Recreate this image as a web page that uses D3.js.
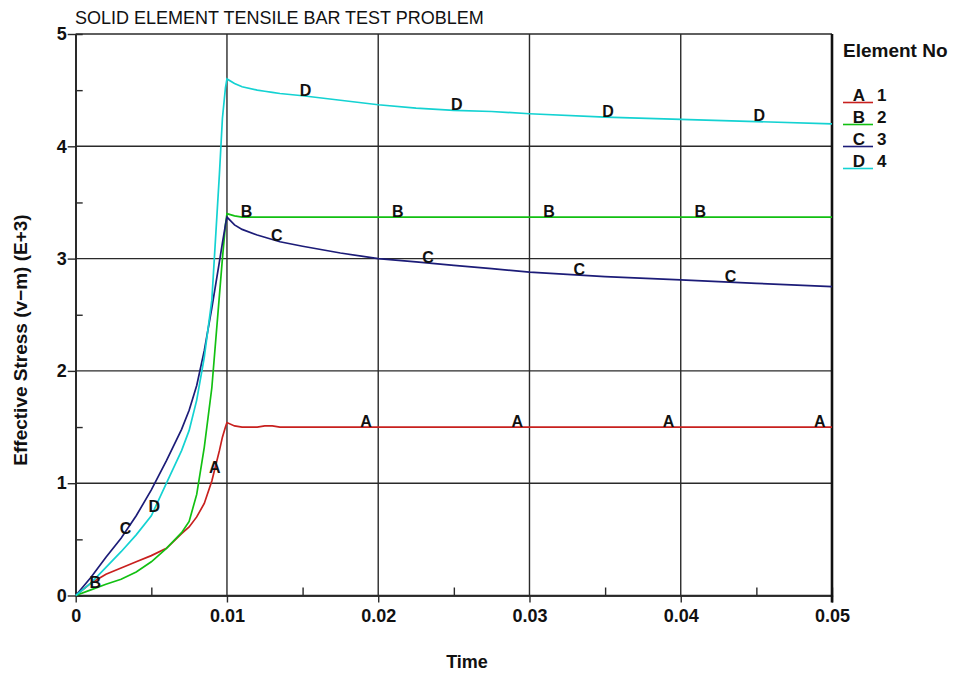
<!DOCTYPE html>
<html>
<head>
<meta charset="utf-8">
<script src="https://cdn.jsdelivr.net/npm/d3@7"></script>
<style>
  body { margin: 0; background: #fff; }
  text { font-family: "Liberation Sans", Arial, sans-serif; fill: #111; }
</style>
</head>
<body>
<svg id="chart" width="953" height="674"></svg>
<script>
// Time values shared by every element history.
var time = [0, 0.001, 0.002, 0.003, 0.004, 0.005, 0.006, 0.007, 0.0075, 0.008,
            0.0085, 0.009, 0.0095, 0.0097, 0.0099, 0.01, 0.0105, 0.011, 0.012, 0.0125,
            0.013, 0.0135, 0.015, 0.0175, 0.02, 0.0225, 0.025, 0.0275, 0.03, 0.035,
            0.04, 0.045, 0.05];

// Effective stress (v-m), units of E+3, one array per element.
var elem_1 = [0, 0.11, 0.19, 0.245, 0.30, 0.355, 0.42, 0.55, 0.61, 0.70,
              0.82, 1.02, 1.29, 1.41, 1.50, 1.54, 1.51, 1.50, 1.50, 1.51,
              1.51, 1.50, 1.50, 1.50, 1.50, 1.50, 1.50, 1.50, 1.50, 1.50,
              1.50, 1.50, 1.50];
var elem_2 = [0, 0.05, 0.10, 0.145, 0.21, 0.30, 0.42, 0.56, 0.66, 0.90,
              1.32, 1.85, 2.67, 3.00, 3.30, 3.40, 3.38, 3.37, 3.37, 3.37,
              3.37, 3.37, 3.37, 3.37, 3.37, 3.37, 3.37, 3.37, 3.37, 3.37,
              3.37, 3.37, 3.37];
var elem_3 = [0, 0.16, 0.34, 0.51, 0.71, 0.94, 1.20, 1.48, 1.65, 1.87,
              2.18, 2.56, 2.97, 3.14, 3.30, 3.37, 3.30, 3.26, 3.21, 3.19,
              3.17, 3.15, 3.11, 3.05, 3.00, 2.97, 2.94, 2.91, 2.88, 2.84,
              2.81, 2.78, 2.75];
var elem_4 = [0, 0.11, 0.25, 0.39, 0.54, 0.71, 1.00, 1.29, 1.47, 1.74,
              2.12, 2.63, 3.75, 4.25, 4.52, 4.60, 4.56, 4.53, 4.50, 4.49,
              4.48, 4.47, 4.45, 4.41, 4.37, 4.34, 4.32, 4.31, 4.29, 4.26,
              4.24, 4.22, 4.20];

var series_letters = ["A", "B", "C", "D"];
var series_numbers = ["1", "2", "3", "4"];
var series_colors  = ["#c8201e", "#12c012", "#1c1c78", "#14d2d2"];

// Where the letter markers sit along each curve.
var label_times_1 = [0.0092, 0.0192, 0.0292, 0.0392, 0.0492];
var label_times_2 = [0.0013, 0.0113, 0.0213, 0.0313, 0.0413];
var label_times_3 = [0.0033, 0.0133, 0.0233, 0.0333, 0.0433];
var label_times_4 = [0.0052, 0.0152, 0.0252, 0.0352, 0.0452];

var x_ticks = [0, 0.01, 0.02, 0.03, 0.04, 0.05];
var x_tick_labels = ["0", "0.01", "0.02", "0.03", "0.04", "0.05"];
var x_minor = [0.005, 0.015, 0.025, 0.035, 0.045];
var y_ticks = [0, 1, 2, 3, 4, 5];
var y_minor = [0.5, 1.5, 2.5, 3.5, 4.5];

var series = [elem_1, elem_2, elem_3, elem_4];
var label_times = [label_times_1, label_times_2, label_times_3, label_times_4];

var svg = d3.select("#chart");
var ink = "#2a2a2a";

var x = d3.scaleLinear().domain([0, 0.05]).range([75.7, 832]);
var y = d3.scaleLinear().domain([0, 5]).range([595.5, 34]);

// Grid lines
svg.append("g").selectAll("line.hgrid")
  .data(y_ticks)
  .enter().append("line")
  .attr("x1", x(0)).attr("x2", x(0.05))
  .attr("y1", function (d) { return y(d); })
  .attr("y2", function (d) { return y(d); })
  .attr("stroke", ink).attr("stroke-width", 1.4);

svg.append("g").selectAll("line.vgrid")
  .data(x_ticks)
  .enter().append("line")
  .attr("x1", function (d) { return x(d); })
  .attr("x2", function (d) { return x(d); })
  .attr("y1", y(5)).attr("y2", y(0))
  .attr("stroke", ink).attr("stroke-width", 1.4);

// Axes: major ticks point out, minor ticks point in.
function style_axis(g) {
  g.select(".domain").attr("stroke", ink).attr("stroke-width", 1.4);
  g.selectAll(".tick line").attr("stroke", ink).attr("stroke-width", 1.4);
  g.selectAll(".tick text")
    .attr("fill", "#111")
    .style("font-family", "'Liberation Sans', Arial, sans-serif")
    .style("font-size", "18px")
    .style("font-weight", "bold");
}

svg.append("g")
  .attr("transform", "translate(" + x(0) + ",0)")
  .call(d3.axisLeft(y).tickValues(y_ticks).tickSize(8).tickSizeOuter(0).tickPadding(1)
    .tickFormat(d3.format("d")))
  .call(style_axis);

svg.append("g")
  .attr("transform", "translate(0," + y(0) + ")")
  .call(d3.axisBottom(x).tickValues(x_ticks).tickSize(7).tickSizeOuter(0).tickPadding(7)
    .tickFormat(function (d, i) { return x_tick_labels[i]; }))
  .call(style_axis);

svg.append("g")
  .attr("transform", "translate(" + x(0) + ",0)")
  .call(d3.axisLeft(y).tickValues(y_minor).tickSize(-7).tickFormat(""))
  .call(style_axis);

svg.append("g")
  .attr("transform", "translate(0," + y(0) + ")")
  .call(d3.axisBottom(x).tickValues(x_minor).tickSize(-8).tickFormat(""))
  .call(style_axis);

// Heavy right border
svg.append("line")
  .attr("x1", x(0.05)).attr("x2", x(0.05))
  .attr("y1", y(5)).attr("y2", y(0) + 7)
  .attr("stroke", "#111").attr("stroke-width", 2.6);

// Curves
var line = d3.line()
  .x(function (d, i) { return x(time[i]); })
  .y(function (d) { return y(d); });

series.forEach(function (vals, s) {
  svg.append("path")
    .datum(vals)
    .attr("d", line)
    .attr("fill", "none")
    .attr("stroke", series_colors[s])
    .attr("stroke-width", 1.7);
});

// Linear lookup of a curve value at time t.
function value_at(vals, t) {
  var i = d3.bisectRight(time, t);
  if (i <= 0) return vals[0];
  if (i >= time.length) return vals[vals.length - 1];
  var f = (t - time[i - 1]) / (time[i] - time[i - 1]);
  return vals[i - 1] + f * (vals[i] - vals[i - 1]);
}

// Letter markers sit just above flat parts, centred on steep parts.
series.forEach(function (vals, s) {
  label_times[s].forEach(function (t) {
    var py = y(value_at(vals, t));
    var dy_px = y(value_at(vals, t + 0.0005)) - y(value_at(vals, t - 0.0005));
    var slope = dy_px / (x(0.001) - x(0));
    var off = -6 / Math.sqrt(1 + slope * slope);
    svg.append("text")
      .attr("x", x(t))
      .attr("y", py + off)
      .attr("text-anchor", "middle")
      .attr("dominant-baseline", "central")
      .style("font-size", "16px")
      .style("font-weight", "bold")
      .text(series_letters[s]);
  });
});

// Title and axis titles
svg.append("text")
  .attr("x", 75).attr("y", 24)
  .style("font-size", "18px")
  .text("SOLID ELEMENT TENSILE BAR TEST PROBLEM");

svg.append("text")
  .attr("x", 467).attr("y", 668)
  .attr("text-anchor", "middle")
  .style("font-size", "18px")
  .style("font-weight", "bold")
  .text("Time");

svg.append("text")
  .attr("transform", "translate(27,340) rotate(-90)")
  .attr("text-anchor", "middle")
  .style("font-size", "19px")
  .style("font-weight", "bold")
  .text("Effective Stress (v\u2212m) (E+3)");

// Legend
svg.append("text")
  .attr("x", 843).attr("y", 57)
  .style("font-size", "19px")
  .style("font-weight", "bold")
  .text("Element No");

series_letters.forEach(function (letter, s) {
  var base = 101 + s * 22;
  svg.append("line")
    .attr("x1", 843).attr("x2", 873)
    .attr("y1", base + 1.5).attr("y2", base + 1.5)
    .attr("stroke", series_colors[s]).attr("stroke-width", 1.6);
  svg.append("text")
    .attr("x", 859).attr("y", base)
    .attr("text-anchor", "middle")
    .style("font-size", "17px")
    .style("font-weight", "bold")
    .text(letter);
  svg.append("text")
    .attr("x", 877).attr("y", base)
    .style("font-size", "17px")
    .style("font-weight", "bold")
    .text(series_numbers[s]);
});
</script>
</body>
</html>
